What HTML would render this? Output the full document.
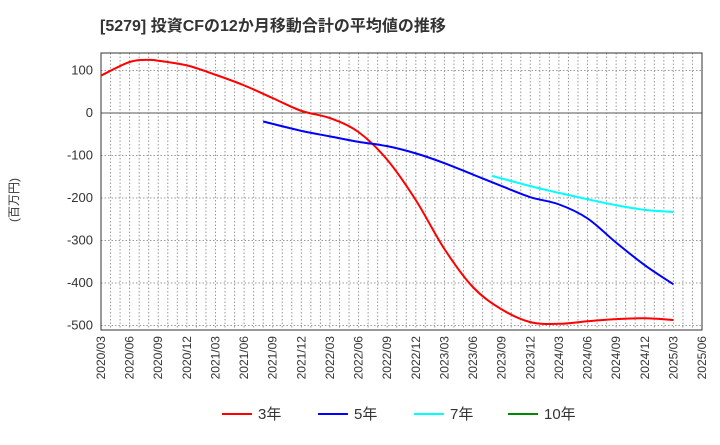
<!DOCTYPE html>
<html><head><meta charset="utf-8">
<style>
body{margin:0;background:#fff;font-family:"Liberation Sans","Noto Sans CJK JP",sans-serif;}
svg text{font-family:"Liberation Sans","Noto Sans CJK JP",sans-serif;}
</style></head>
<body>
<svg id="chart" width="720" height="440" xmlns="http://www.w3.org/2000/svg">
<text x="100" y="31" font-size="16" font-weight="bold" fill="#333">[5279]  投資CFの12か月移動合計の平均値の推移</text>
<text transform="translate(18,200) rotate(-90)" font-size="12" fill="#333" text-anchor="middle">(百万円)</text>
<g id="grid"></g>
<g id="axes"></g>
<g id="series"></g>
<g id="legend"></g>
</svg>
<script>
const xLabels=["2020/03","2020/06","2020/09","2020/12","2021/03","2021/06","2021/09","2021/12","2022/03","2022/06","2022/09","2022/12","2023/03","2023/06","2023/09","2023/12","2024/03","2024/06","2024/09","2024/12","2025/03","2025/06"];
const yTicks=[100,0,-100,-200,-300,-400,-500];
const s3m=[0,3,5,6,9,12,15,18,21,24,27,30,33,36,39,42,45,48,51,54,57,60];
const s3v=[88,120,125,123,112,90,65,35,5,-12,-45,-110,-205,-320,-410,-462,-492,-496,-490,-485,-483,-487];
const s5m=[17,21,24,27,30,33,36,39,42,45,48,51,54,57,60];
const s5v=[-20,-42,-55,-68,-78,-95,-118,-145,-172,-198,-215,-248,-305,-358,-403];
const s7m=[41,45,48,51,54,57,60];
const s7v=[-148,-172,-188,-203,-217,-228,-233];
const L=101,R=702,T=53,B=330;
const X=m=>L+m*(R-L)/63;
const Y=v=>113-v*0.425;
const ns="http://www.w3.org/2000/svg";
function mk(t,a,p){const e=document.createElementNS(ns,t);for(const k in a)e.setAttribute(k,a[k]);p.appendChild(e);return e;}
const grid=document.getElementById('grid'),axes=document.getElementById('axes'),ser=document.getElementById('series'),leg=document.getElementById('legend');
for(let m=1;m<63;m++){const l=mk('line',{x1:X(m),x2:X(m),y1:T,y2:B,stroke:'#999','stroke-dasharray':'1.5,2'},grid);

}
yTicks.forEach(v=>{const l=mk('line',{x1:L,x2:R,y1:Y(v),y2:Y(v),stroke:v===0?'#555':'#999','stroke-dasharray':v===0?'':'1.5,2'},grid);


const t=mk('text',{x:L-8,y:Y(v)+4,'font-size':13,fill:'#333','text-anchor':'end'},axes);t.textContent=v;

});
const fr=mk('rect',{x:L,y:T,width:R-L,height:B-T,fill:'none',stroke:'#333'},axes);


xLabels.forEach((s,i)=>{const x=X(i*3);const t=mk('text',{transform:`translate(${x+4},${B+6}) rotate(-90)`,'font-size':12,fill:'#333','text-anchor':'end'},axes);t.textContent=s;

});
function path(ms,vs){const p=ms.map((m,i)=>[X(m),Y(vs[i])]);let d=`M${p[0][0]},${p[0][1]}`;
for(let i=0;i<p.length-1;i++){const p0=p[i-1]||p[i],p1=p[i],p2=p[i+1],p3=p[i+2]||p2;
d+=` C${p1[0]+(p2[0]-p0[0])/6},${p1[1]+(p2[1]-p0[1])/6} ${p2[0]-(p3[0]-p1[0])/6},${p2[1]-(p3[1]-p1[1])/6} ${p2[0]},${p2[1]}`;}return d;}
[[s3m,s3v,'#f00','series-3yr'],[s5m,s5v,'#00f','series-5yr'],[s7m,s7v,'#0ff','series-7yr']].forEach(([m,v,c,n])=>{
const e=mk('path',{d:path(m,v),fill:'none',stroke:c,'stroke-width':2},ser);

});
[['3年','#f00',222],['5年','#00f',318],['7年','#0ff',414],['10年','#080',508]].forEach(([s,c,x])=>{
const g=mk('g',{},leg);


mk('line',{x1:x,x2:x+30,y1:414,y2:414,stroke:c,'stroke-width':2},g);
const t=mk('text',{x:x+36,y:419,'font-size':15,fill:'#333'},g);t.textContent=s;});
</script>
</body></html>
